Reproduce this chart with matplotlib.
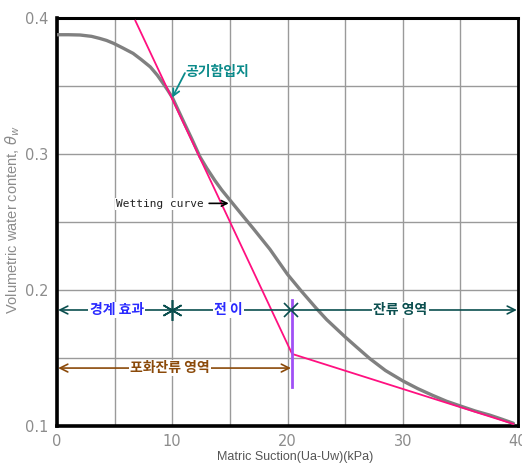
import matplotlib
matplotlib.use("Agg")
import matplotlib.pyplot as plt

# ---- data ----
suction = [0, 1, 2, 3, 3.7, 4.3, 4.9, 5.7, 6.6, 7.3, 8.1, 8.7, 9.2, 9.6, 10.0,
           11.0, 11.7, 12.4, 13.0, 13.7, 14.3, 15.0, 16.0, 17.03, 18.47, 20.0,
           21.2, 22.5, 23.4, 25.0, 26.0, 27.15, 28.5, 30.0, 31.3, 32.6, 33.8,
           35.0, 36.3, 37.55, 38.6, 39.6]
theta = [0.3877, 0.3877, 0.3875, 0.3865, 0.385, 0.3835, 0.3814, 0.378, 0.374,
         0.3695, 0.364, 0.358, 0.352, 0.347, 0.3417, 0.3235, 0.311, 0.298, 0.2895,
         0.2805, 0.2735, 0.2662, 0.2558, 0.2452, 0.2300, 0.2115, 0.1992, 0.1865,
         0.1782, 0.1655, 0.158, 0.1495, 0.1408, 0.1332, 0.1275, 0.1225, 0.1182,
         0.1147, 0.111, 0.108, 0.105, 0.102]

tangent_x = [6.8, 20.4, 39.6]
tangent_y = [0.398, 0.153, 0.1015]

aev_x = 10.0          # 공기함입지 (air-entry point)
aev_y = 0.3415
residual_x = 20.4
residual_ylim = [0.129, 0.193]

zone_y = 0.1853
zone_bounds = [0, 10, 20.3, 40]
zone_labels = ["경계 효과", "전 이", "잔류 영역"]
zone_label_x = [5.2, 14.9, 29.8]

sat_y = 0.1426
sat_bounds = [0, 20.3]
sat_label = "포화잔류 영역"

xticks = [0, 10, 20, 30, 40]
yticks = [0.1, 0.2, 0.3, 0.4]

# ---- figure ----
fig = plt.figure(figsize=(5.22, 4.65), dpi=100)
ax = fig.add_axes([57 / 522, 1 - 426 / 465, (518 - 57) / 522, (426 - 18) / 465])
ax.set_xlim(0, 40)
ax.set_ylim(0.1, 0.4)

grid_x = [i * 5 for i in range(9)]
grid_y = [0.1 + 0.05 * i for i in range(7)]
ax.set_xticks(grid_x)
ax.set_yticks(grid_y)
ax.grid(True, color="#9a9a9a", linewidth=1.0)
ax.set_axisbelow(True)
ax.set_xticklabels([str(t) if t in xticks else "" for t in grid_x])
ax.set_yticklabels([("%.1f" % v) if any(abs(v - t) < 1e-9 for t in yticks) else ""
                    for v in grid_y])
ax.tick_params(length=0, labelsize=10.5, labelcolor="#8c8c8c", pad=6)

for s in ax.spines.values():
    s.set_color("black")
ax.spines["left"].set_linewidth(2.6)
ax.spines["bottom"].set_linewidth(2.6)
ax.spines["top"].set_linewidth(2.2)
ax.spines["right"].set_linewidth(2.0)

# wetting curve
ax.plot(suction, theta, color="#808080", linewidth=2.4, solid_capstyle="round",
        solid_joinstyle="round", zorder=3)
# tangent lines
ax.plot(tangent_x, tangent_y, color="#ff1080", linewidth=1.3, zorder=4)
# residual vertical marker
ax.plot([residual_x, residual_x], residual_ylim, color="#a050f5", linewidth=2.0, zorder=5)

kfont = ["Noto Sans CJK KR", "DejaVu Sans"]

# air-entry annotation
ax.annotate("", xy=(aev_x, aev_y), xytext=(11.1, 0.3595),
            arrowprops=dict(arrowstyle="->", color="#0a8a8a", lw=1.3,
                            mutation_scale=12, shrinkA=0, shrinkB=0), zorder=6)
ax.text(11.1, 0.3605, "공기함입지", family=kfont, fontsize=10, color="#0a8a8a",
        ha="left", va="center", fontweight="bold", zorder=6)

# wetting curve label
ax.text(12.7, 0.2632, "Wetting curve", family="DejaVu Sans Mono", fontsize=8,
        color="#222222", ha="right", va="center",
        bbox=dict(facecolor="white", edgecolor="none", pad=0.5), zorder=6)
ax.annotate("", xy=(14.9, 0.2637), xytext=(13.2, 0.2637),
            arrowprops=dict(arrowstyle="->", color="black", lw=1.2,
                            mutation_scale=10, shrinkA=0, shrinkB=0), zorder=6)

# zone line (teal)
teal = "#0b4f4f"
ax.annotate("", xy=(zone_bounds[0] + 0.1, zone_y), xytext=(zone_bounds[-1] - 0.1, zone_y),
            arrowprops=dict(arrowstyle="<->", color=teal, lw=1.2,
                            mutation_scale=14, shrinkA=0, shrinkB=0), zorder=6)
ax.plot(zone_bounds[1], zone_y, marker=(6, 2, 0), markersize=15, color=teal,
        markeredgewidth=1.2, zorder=7)
ax.plot(zone_bounds[2], zone_y, marker="x", markersize=10, color=teal,
        markeredgewidth=1.2, zorder=7)
zone_colors = ["#2a2aff", "#2a2aff", teal]
for lx, lab, c in zip(zone_label_x, zone_labels, zone_colors):
    ax.text(lx, zone_y, lab, family=kfont, fontsize=10, color=c, ha="center",
            va="center", fontweight="bold",
            bbox=dict(facecolor="white", edgecolor="none", pad=1.0), zorder=8)

# saturation-residual line (brown)
brown = "#8b4a0a"
ax.annotate("", xy=(sat_bounds[0] + 0.1, sat_y), xytext=(sat_bounds[1], sat_y),
            arrowprops=dict(arrowstyle="<->", color=brown, lw=1.2,
                            mutation_scale=14, shrinkA=0, shrinkB=0), zorder=6)
ax.text(9.8, sat_y, sat_label, family=kfont, fontsize=10, color=brown, ha="center",
        va="center", fontweight="bold",
        bbox=dict(facecolor="white", edgecolor="none", pad=1.0), zorder=8)

# axis labels
fig.text(295 / 522, 1 - 457 / 465, "Matric Suction(Ua-Uw)(kPa)", family="Liberation Sans",
         fontsize=9, color="#555555", ha="center", va="center")
fig.text(13 / 522, 1 - 220 / 465, r"Volumetric water content, $\theta_w$",
         family="Liberation Sans", fontsize=10.5, color="#8c8c8c", ha="center",
         va="center", rotation=90)

fig.savefig("out.png", dpi=100)
